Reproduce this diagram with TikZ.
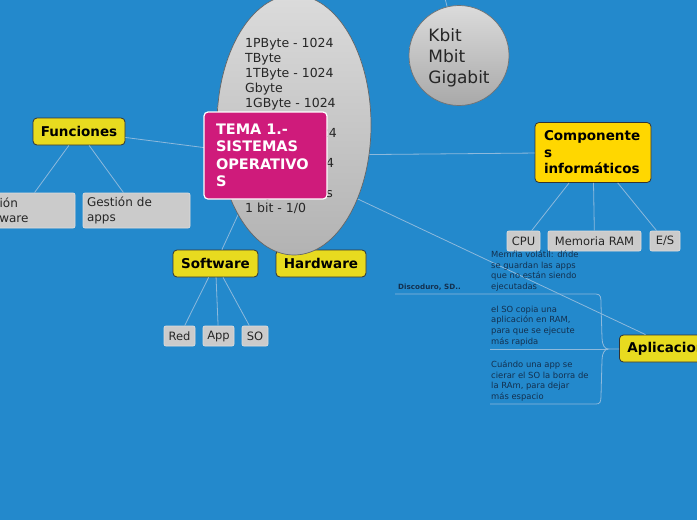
\documentclass[tikz,border=0pt]{standalone}
\usepackage{fontspec}
\setmainfont{DejaVu Sans}
\usetikzlibrary{shapes.geometric}
\definecolor{bgblue}{HTML}{2389CC}
\definecolor{ylw}{HTML}{E8DB1F}
\definecolor{goldc}{HTML}{FFD700}
\definecolor{magen}{HTML}{CF1B7B}
\definecolor{gbox}{HTML}{CBCBCB}
\definecolor{gboxline}{HTML}{DDDDDD}
\definecolor{connc}{HTML}{8DB9DC}
\definecolor{navy}{HTML}{13304F}
\tikzset{
  link/.style={draw=connc, line width=0.8pt},
  ybox/.style={draw=black!80, fill=ylw, rounded corners=4pt, line width=0.8pt,
    font=\fontsize{13.5}{16.5}\selectfont\bfseries, inner sep=0pt, minimum height=27pt, text=black},
  grayb/.style={draw=gboxline, fill=gbox, rounded corners=2pt, line width=0.7pt,
    font=\fontsize{11.5}{15}\selectfont, inner sep=0pt, minimum height=20pt, text=black!85},
  graytwo/.style={grayb, font=\fontsize{12}{15}\selectfont, minimum height=35pt, minimum width=107pt,
    text width=99pt, align=left},
  smalltxt/.style={font=\fontsize{8.4}{10.7}\selectfont, text=navy, inner sep=0pt, align=left, anchor=west},
}
\begin{document}
\begin{tikzpicture}[x=1pt,y=-1pt]
\useasboundingbox (0,0) rectangle (697,520);
\clip (0,0) rectangle (697,520);
\fill[bgblue] (0,0) rectangle (697,520);

% nodes (positions)
\coordinate (kup) at (443,-10);
\node[ybox, minimum width=92pt] (fun) at (79,131.5) {Funciones};
\node[ybox, minimum width=85pt] (sw) at (215.5,263.5) {Software};
\node[ybox, minimum width=90pt] (hw) at (321,263.5) {Hardware};
\node[ybox, anchor=west, inner xsep=8pt] (apl) at (619,348.5) {Aplicaciones};
\node[draw=black!80, fill=goldc, rounded corners=4pt, line width=0.8pt,
  minimum width=116pt, minimum height=60pt, text width=98pt, align=left, inner sep=0pt,
  font=\fontsize{13.5}{16.5}\selectfont\bfseries] (comp) at (593,152.5) {Componente\\s\\informáticos};

\node[graytwo] (gh) at (21.5,210.5) {Gestión\\hardware};
\node[graytwo] (ga) at (136.5,210.5) {Gestión de\\apps};
\node[grayb, minimum width=33pt] (cpu) at (523.5,241) {CPU};
\node[grayb, minimum width=93pt] (ram) at (594.5,241) {Memoria RAM};
\node[grayb, minimum width=30pt] (es) at (665,241) {E/S};
\node[grayb, minimum width=31pt] (red) at (179.5,336) {Red};
\node[grayb, minimum width=31pt] (app) at (218.5,336) {App};
\node[grayb, minimum width=26pt] (so) at (255,336) {SO};

% connectors
\coordinate (temac) at (265.5,155.5);
\draw[link] (fun) -- (temac);
\draw[link] (sw) -- (temac);
\draw[link] (temac) -- (comp);
\draw[link] (temac) -- (apl);
\draw[link] (kup) -- (459,55.5);
\draw[link] (fun) -- (gh);
\draw[link] (fun) -- (ga);
\draw[link] (comp) -- (cpu);
\draw[link] (comp) -- (ram);
\draw[link] (comp) -- (es);
\draw[link] (sw) -- (red);
\draw[link] (sw) -- (app);
\draw[link] (sw) -- (so);

% bracket
\coordinate (btop) at (395,294);
\coordinate (bmid) at (490,349);
\coordinate (bbot) at (490,404);
\coordinate (btip) at (608,349);
\draw[link] (btop) -- (596,294) .. controls (601,294) and (601,298) .. (601,304)
  -- (602,338) .. controls (602,345) and (605,349) .. (btip)
  .. controls (605,349) and (602,353) .. (602,360)
  -- (601,396) .. controls (601,402) and (600,404) .. (596,404) -- (bbot);
\draw[link] (bmid) -- (btip);
\draw[link] (btip) -- (apl);

% ellipse and circle
\node[ellipse, minimum width=154pt, minimum height=260pt, draw=black!60, line width=0.7pt,
  top color=black!14, bottom color=black!30, inner sep=0pt] (ell) at (294,125) {};
\node[anchor=north west, inner sep=0pt, align=left, text=black!85,
  font=\fontsize{12.5}{15}\selectfont] (elltxt) at (245,38)
  {1PByte - 1024\\TByte\\1TByte - 1024\\Gbyte\\1GByte - 1024\\Mbyte\\1MByte - 1024\\Kbyte\\1KByte - 1024\\Byte\\1 Byte - 8 bits\\1 bit - 1/0};
\node[circle, minimum size=100pt, draw=black!55, line width=0.7pt, top color=black!14,
  bottom color=black!34, inner sep=0pt] (kb) at (459,55.5) {};
\node[inner sep=0pt, align=left, text=black!85,
  font=\fontsize{17}{21}\selectfont] (kbtxt) at (459,57.5) {Kbit\\Mbit\\Gigabit};

% central topic
\node[draw=white, line width=1.2pt, fill=magen, rounded corners=4pt, minimum width=123pt,
  minimum height=87pt, text width=99pt, align=left, text=white, inner sep=0pt,
  font=\fontsize{14.5}{17.5}\selectfont\bfseries] (tema) at (temac) {TEMA 1.-\\SISTEMAS\\OPERATIVO\\S};

% small texts
\node[smalltxt, font=\fontsize{7.2}{10}\selectfont\bfseries] (disco) at (398,287) {Discoduro, SD..};
\node[smalltxt] (t1) at (491,271) {Memŕia volátil: dńde\\se guardan las apps\\que no están siendo\\ejecutadas};
\node[smalltxt] (t2) at (491,326) {el SO copia una\\aplicación en RAM,\\para que se ejecute\\más rapida};
\node[smalltxt] (t3) at (491,381) {Cuándo una app se\\cierar el SO la borra de\\la RAm, para dejar\\más espacio};
\end{tikzpicture}
\end{document}
